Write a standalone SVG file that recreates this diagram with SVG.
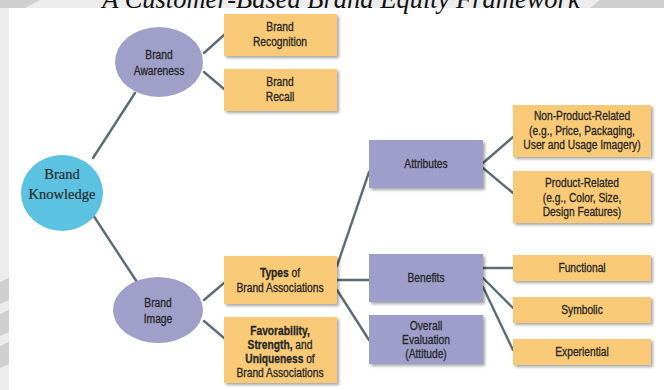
<svg xmlns="http://www.w3.org/2000/svg" width="664" height="390" viewBox="0 0 664 390">
<defs>
<filter id="sh" x="-10%" y="-10%" width="130%" height="140%">
<feDropShadow dx="2" dy="2" stdDeviation="1.8" flood-color="#000" flood-opacity="0.35"/>
</filter>
<style>
.ob{fill:#f8c977;filter:url(#sh)}
.pb{fill:#9f9ecb;filter:url(#sh)}
.pe{fill:#a09fca}
.t{font-family:"Liberation Sans",Arial,sans-serif;font-size:12.5px;fill:#262626;text-anchor:middle;stroke:#262626;stroke-width:0.3}
.b{font-weight:bold}
.s{font-family:"Liberation Serif","Times New Roman",serif;font-size:14.5px;fill:#2a2a2a;text-anchor:middle;stroke:#2a2a2a;stroke-width:0.2}
.c line{stroke:#5e6d73;stroke-width:2.4;stroke-linecap:round}
</style>
</defs>
<rect width="664" height="390" fill="#ececec"/>
<rect x="9" y="8" width="655" height="382" fill="#ffffff"/>
<g fill="#cfcfcf">
<polygon points="0,282 9,278 9,300 0,304"/>
<polygon points="0,314 9,310 9,332 0,336"/>
<polygon points="0,346 9,342 9,364 0,368"/>
<path d="M600,0 L664,0 L664,8 L590,8 Z"/>
<path d="M0,0 L40,0 L25,8 L0,8 Z"/>
</g>
<text x="341" y="8" font-family="Liberation Serif,serif" font-style="italic" font-size="26.5" fill="#111" text-anchor="middle">A Customer-Based Brand Equity Framework</text>

<g class="c">
<line x1="93" y1="158" x2="135" y2="93"/>
<line x1="93" y1="215" x2="137" y2="282"/>
<line x1="204" y1="53" x2="224" y2="35"/>
<line x1="204" y1="72" x2="224" y2="89"/>
<line x1="204" y1="300" x2="224" y2="283"/>
<line x1="204" y1="321" x2="224" y2="338"/>
<line x1="337" y1="266" x2="369" y2="172"/>
<line x1="337" y1="280" x2="369" y2="280"/>
<line x1="337" y1="290" x2="369" y2="340"/>
<line x1="483" y1="163" x2="513" y2="137"/>
<line x1="483" y1="168" x2="513" y2="193"/>
<line x1="483" y1="268" x2="513" y2="268"/>
<line x1="483" y1="278" x2="513" y2="308"/>
<line x1="483" y1="287" x2="513" y2="350"/>
</g>

<g id="brand-knowledge">
<ellipse cx="62" cy="193" rx="41" ry="38" fill="#5cc2e2"/>
<text class="s" x="62" y="179">Brand</text>
<text class="s" x="62" y="199">Knowledge</text>
</g>
<g id="brand-awareness">
<ellipse class="pe" cx="159" cy="62" rx="44" ry="35"/>
<text class="t" transform="translate(159 59) scale(0.82 1)">Brand</text>
<text class="t" transform="translate(159 75) scale(0.82 1)">Awareness</text>
</g>
<g id="brand-image">
<ellipse class="pe" cx="158" cy="310" rx="45" ry="33"/>
<text class="t" transform="translate(158 307) scale(0.82 1)">Brand</text>
<text class="t" transform="translate(158 323) scale(0.82 1)">Image</text>
</g>
<g id="brand-recognition">
<rect class="ob" x="224" y="14" width="113" height="42"/>
<text class="t" transform="translate(280 31) scale(0.82 1)">Brand</text>
<text class="t" transform="translate(280 46) scale(0.82 1)">Recognition</text>
</g>
<g id="brand-recall">
<rect class="ob" x="224" y="69" width="113" height="42"/>
<text class="t" transform="translate(280 86) scale(0.82 1)">Brand</text>
<text class="t" transform="translate(280 101) scale(0.82 1)">Recall</text>
</g>
<g id="types">
<rect class="ob" x="224" y="256" width="113" height="48"/>
<text class="t" transform="translate(280 277) scale(0.82 1)"><tspan class="b">Types</tspan> of</text>
<text class="t" transform="translate(280 292) scale(0.82 1)">Brand Associations</text>
</g>
<g id="favorability">
<rect class="ob" x="224" y="317" width="113" height="66"/>
<text class="t" transform="translate(280 335) scale(0.82 1)"><tspan class="b">Favorability,</tspan></text>
<text class="t" transform="translate(280 349) scale(0.82 1)"><tspan class="b">Strength,</tspan> and</text>
<text class="t" transform="translate(280 363) scale(0.82 1)"><tspan class="b">Uniqueness</tspan> of</text>
<text class="t" transform="translate(280 377) scale(0.82 1)">Brand Associations</text>
</g>
<g id="attributes">
<rect class="pb" x="369" y="140" width="114" height="48"/>
<text class="t" transform="translate(426 168) scale(0.82 1)">Attributes</text>
</g>
<g id="benefits">
<rect class="pb" x="369" y="254" width="114" height="48"/>
<text class="t" transform="translate(426 282) scale(0.82 1)">Benefits</text>
</g>
<g id="overall-evaluation">
<rect class="pb" x="369" y="315" width="114" height="49"/>
<text class="t" transform="translate(426 330) scale(0.82 1)">Overall</text>
<text class="t" transform="translate(426 344) scale(0.82 1)">Evaluation</text>
<text class="t" transform="translate(426 358) scale(0.82 1)">(Attitude)</text>
</g>
<g id="non-product-related">
<rect class="ob" x="513" y="105" width="138" height="52"/>
<text class="t" transform="translate(582 120) scale(0.82 1)">Non-Product-Related</text>
<text class="t" transform="translate(582 135) scale(0.82 1)">(e.g., Price, Packaging,</text>
<text class="t" transform="translate(582 149) scale(0.82 1)">User and Usage Imagery)</text>
</g>
<g id="product-related">
<rect class="ob" x="513" y="171" width="138" height="52"/>
<text class="t" transform="translate(582 187) scale(0.82 1)">Product-Related</text>
<text class="t" transform="translate(582 202) scale(0.82 1)">(e.g., Color, Size,</text>
<text class="t" transform="translate(582 216) scale(0.82 1)">Design Features)</text>
</g>
<g id="functional">
<rect class="ob" x="513" y="255" width="138" height="26"/>
<text class="t" transform="translate(582 272) scale(0.82 1)">Functional</text>
</g>
<g id="symbolic">
<rect class="ob" x="513" y="297" width="138" height="26"/>
<text class="t" transform="translate(582 314) scale(0.82 1)">Symbolic</text>
</g>
<g id="experiential">
<rect class="ob" x="513" y="339" width="138" height="26"/>
<text class="t" transform="translate(582 356) scale(0.82 1)">Experiential</text>
</g>
</svg>
